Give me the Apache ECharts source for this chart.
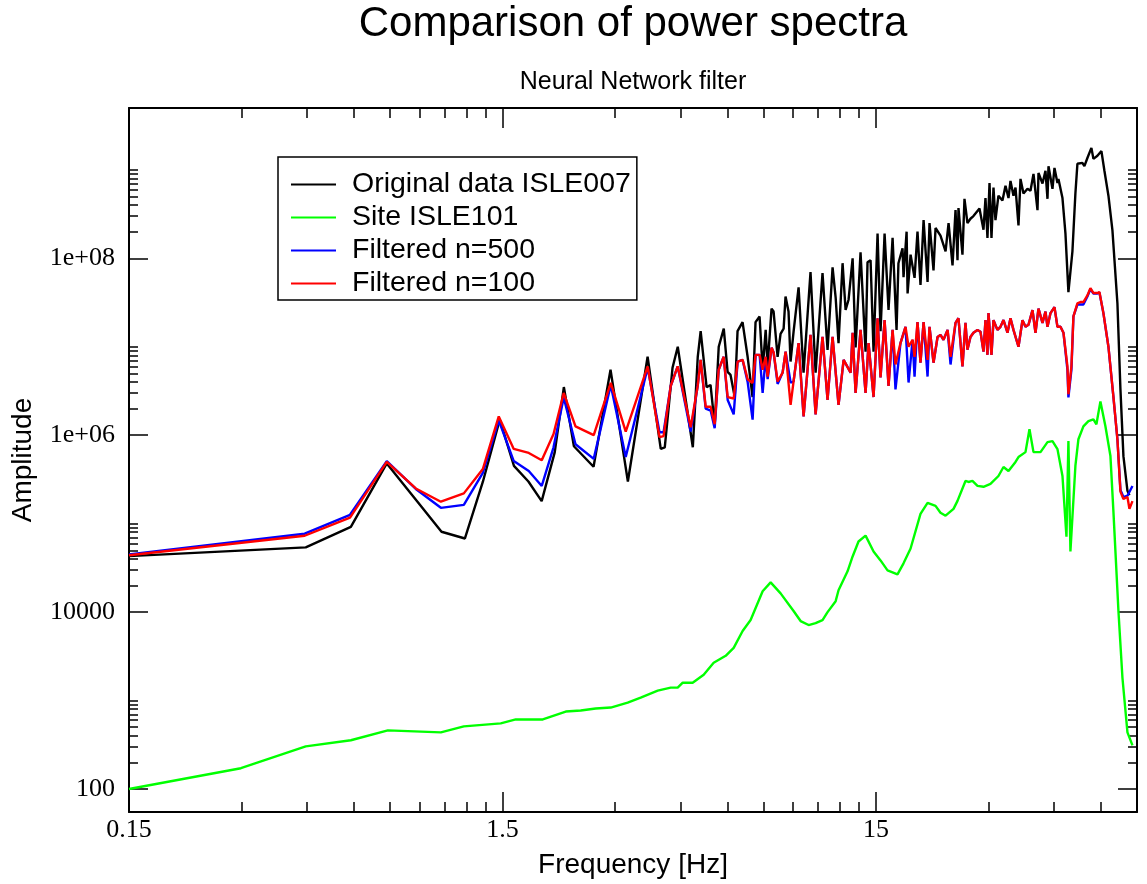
<!DOCTYPE html>
<html>
<head>
<meta charset="utf-8">
<title>Comparison of power spectra</title>
<script src="https://cdn.jsdelivr.net/npm/echarts@6/dist/echarts.min.js"></script>
<style>
html, body { margin: 0; padding: 0; background: #fff; }
#chart { width: 1147px; height: 884px; }
</style>
</head>
<body>
<div id="chart"></div>
<script>
// axis ticks (log axes, grace style: majors every decade on x, every 2 decades on y)
var xMajor = [0.15, 1.5, 15];
var xMajorLabels = ['0.15', '1.5', '15'];
var xMinor = [0.3, 0.45, 0.6, 0.75, 0.9, 1.05, 1.2, 1.35, 3, 4.5, 6, 7.5, 9, 10.5, 12, 13.5, 30, 45, 60, 75];
var yMajor = [100, 1e4, 1e6, 1e8];
var yMajorLabels = ['100', '10000', '1e+06', '1e+08'];
var yMinor = [200, 300, 400, 500, 600, 700, 800, 900, 1000,
  2e4, 3e4, 4e4, 5e4, 6e4, 7e4, 8e4, 9e4, 1e5,
  2e6, 3e6, 4e6, 5e6, 6e6, 7e6, 8e6, 9e6, 1e7,
  2e8, 3e8, 4e8, 5e8, 6e8, 7e8, 8e8, 9e8, 1e9];

// Original data ISLE007
var blackFreq = [0.15,0.446,0.589,0.735,0.885,1.03,1.19,1.33,1.475,1.61,
  1.76,1.91,2.07,2.19,2.33,2.63,2.92,3.25,3.67,3.98,
  4.08,4.28,4.42,4.85,5.00,5.09,5.28,5.41,5.55,5.69,
  5.87,6.01,6.12,6.28,6.39,6.59,6.80,7.01,7.14,7.32,
  7.46,7.60,7.69,7.88,7.98,8.18,8.33,8.49,8.59,8.75,
  8.86,9.03,9.31,9.60,10.02,10.34,10.79,11.13,11.48,11.70,
  11.91,12.21,12.44,12.67,12.99,13.23,13.64,14.07,14.24,14.51,
  14.78,15.15,15.43,15.82,16.21,16.62,17.03,17.23,17.67,17.78,
  18.12,18.23,18.57,18.80,19.03,19.38,19.74,20.12,20.62,20.87,
  21.39,21.66,22.33,23.04,23.47,24.05,24.50,24.80,24.95,25.57,
  25.89,26.37,26.86,27.36,28.40,29.11,29.47,29.83,30.21,30.58,
  30.96,31.34,31.92,32.72,33.34,33.96,34.38,35.02,35.46,36.12,
  36.57,37.25,38.18,38.89,39.62,40.61,40.86,41.88,42.66,43.19,
  43.46,44.54,45.09,45.93,46.21,47.37,48.25,49.14,50.37,51.30,
  51.94,53.56,54.23,55.24,56.62,57.33,58.76,60.23,61.35,62.89,
  64.46,66.47,67.72,68.98,70.71,71.58];
var blackAmp = [4.3e4,5.4e4,9.2e4,4.8e5,1.8e5,8.1e4,6.8e4,3.0e5,1.5e6,4.5e5,
  3.0e5,1.8e5,6.4e5,3.5e6,7.5e5,4.4e5,5.5e6,3.0e5,7.7e6,7.0e5,
  7.3e5,5.8e6,1.0e7,7.3e5,7.7e6,1.5e7,3.5e6,3.7e6,1.3e6,1.0e7,
  1.6e7,5.2e6,4.8e6,2.7e6,1.5e7,1.9e7,7.7e6,2.7e6,1.9e7,2.2e7,
  5.5e6,1.55e7,6.0e6,2.7e7,2.5e7,7.7e6,1.4e7,1.6e7,3.7e7,2.5e7,
  6.8e6,1.5e7,4.7e7,5.1e6,7.0e7,5.1e6,6.8e7,9.2e6,7.9e7,3.6e7,
  1.1e7,8.8e7,2.6e7,3.4e7,1.0e8,9.8e6,1.17e8,8.8e6,9.0e7,9.5e7,
  8.8e6,1.9e8,1.5e7,1.9e8,2.6e7,1.7e8,1.55e7,8.8e7,1.3e8,6.1e7,
  2.0e8,4.0e7,1.1e8,1.14e8,6.0e7,2.0e8,5.0e7,2.7e8,5.4e7,2.5e8,
  7.3e7,2.2e8,1.8e8,1.2e8,2.5e8,8.3e7,3.5e8,9.5e7,3.7e8,1.1e8,
  4.7e8,2.5e8,2.8e8,3.0e8,3.65e8,2.1e8,4.8e8,1.7e8,7.1e8,1.7e8,
  6.3e8,2.7e8,5.1e8,4.5e8,6.6e8,4.8e8,7.5e8,5.1e8,6.3e8,2.35e8,
  7.9e8,5.4e8,6.1e8,5.8e8,9.0e8,3.5e8,9.2e8,7.0e8,9.75e8,4.7e8,
  1.1e9,6.1e8,1.05e9,7.1e8,7.9e8,4.8e8,1.9e8,4.15e7,1.2e8,5.4e8,
  1.17e9,1.2e9,1.1e9,1.36e9,1.77e9,1.33e9,1.44e9,1.63e9,9.75e8,5.1e8,
  2.07e8,3.1e7,3.3e6,5.8e5,2.35e5,2.1e5];

// Site ISLE101
var greenFreq = [0.15,0.299,0.446,0.589,0.74,1.026,1.182,1.484,1.628,1.923,
  2.216,2.43,2.665,2.924,3.246,3.517,3.906,4.232,4.418,4.557,
  4.845,5.186,5.515,5.939,6.24,6.593,6.926,7.459,7.836,8.333,
  9.027,9.426,9.903,10.34,10.79,11.13,11.70,11.91,12.59,12.99,
  13.47,14.07,14.78,15.43,16.11,17.13,17.78,18.57,19.74,20.62,
  21.66,22.33,23.04,24.2,24.8,26.05,26.53,27.19,28.05,29.11,
  30.39,31.92,32.93,33.96,35.46,36.12,37.71,38.65,39.62,41.37,
  43.19,44.54,45.93,47.37,48.55,49.14,49.75,51.3,52.26,53.89,
  55.59,57.33,58.4,59.86,61.73,63.67,64.86,66.89,68.56,70.71,
  72.93];
var greenAmp = [100,172,304,356,460,437,511,552,612,612,
  752,773,813,834,950,1081,1294,1400,1400,1592,
  1592,1959,2673,3206,3945,6124,8128,1.72e4,2.17e4,1.63e4,
  1.03e4,7925,7145,7516,8128,1.0e4,1.33e4,1.77e4,2.89e4,4.26e4,
  6.28e4,7.33e4,4.84e4,3.84e4,2.96e4,2.67e4,3.56e4,5.24e4,1.29e5,1.72e5,
  1.59e5,1.33e5,1.23e5,1.47e5,1.81e5,3.04e5,2.96e5,3.04e5,2.67e5,2.61e5,
  2.81e5,3.46e5,4.37e5,3.94e5,4.98e5,5.66e5,6.44e5,1.17e6,6.44e5,6.44e5,
  8.34e5,8.57e5,6.96e5,3.46e5,7.14e4,8.57e5,4.84e4,4.49e5,9.0e5,1.26e6,
  1.44e6,1.51e6,1.33e6,2.41e6,1.26e6,5.81e5,1.36e5,1.03e4,1811,437,
  312];

// Filtered (n=500 and n=100), same frequency bins
var filtFreq = [0.15,0.443,0.586,0.735,0.879,1.026,1.182,1.329,1.466,1.608,
  1.764,1.911,2.055,2.188,2.353,2.633,2.924,3.207,3.672,3.95,
  4.05,4.232,4.418,4.787,4.997,5.09,5.25,5.414,5.549,5.688,
  5.867,6.013,6.24,6.393,6.593,6.8,7.012,7.143,7.322,7.459,
  7.598,7.693,7.884,7.982,8.181,8.437,8.594,8.862,9.027,9.31,
  9.602,10.02,10.34,10.79,11.13,11.48,11.91,12.29,12.83,12.99,
  13.23,13.64,14.07,14.33,14.78,15.15,15.43,15.82,16.21,16.62,
  16.92,17.45,18.0,18.34,18.8,19.03,19.38,19.74,20.12,20.62,
  20.87,21.39,21.93,22.33,22.75,23.33,23.76,24.5,24.95,25.57,
  26.05,26.37,26.86,27.36,28.05,28.57,29.11,29.47,29.83,30.02,
  30.58,30.96,31.72,32.32,32.93,33.75,34.38,35.02,36.12,37.02,
  37.71,38.41,39.38,40.11,40.86,41.88,42.66,43.19,44.0,45.09,
  45.93,46.79,47.66,48.84,49.14,50.06,50.68,51.94,52.91,53.89,
  55.24,56.28,57.33,58.76,59.49,60.97,62.89,64.86,66.47,67.72,
  68.98,70.71,71.58,72.93];
var blueAmp = [4.5e4,7.7e4,1.26e5,5.1e5,2.47e5,1.51e5,1.63e5,3.74e5,1.47e6,5.1e5,
  3.94e5,2.67e5,7.3e5,2.67e6,7.9e5,5.4e5,3.7e6,5.66e5,5.8e6,1.08e6,
  1.08e6,3.6e6,6.0e6,1.1e6,3.6e6,7.1e6,2.0e6,1.9e6,1.2e6,5.5e6,
  7.7e6,2.5e6,1.72e6,6.8e6,7.1e6,4.0e6,1.5e6,8.1e6,8.1e6,3.0e6,
  7.7e6,4.3e6,9.75e6,8.6e6,3.8e6,5.1e6,8.8e6,3.94e6,4.05e6,1.1e7,
  1.63e6,1.36e7,1.72e6,1.29e7,2.5e6,1.29e7,2.2e6,7.1e6,5.1e6,1.44e7,
  3.0e6,1.55e7,3.0e6,1.1e7,2.7e6,2.1e7,4.5e6,2.0e7,3.6e6,1.55e7,
  3.3e6,1.1e7,1.68e7,3.94e6,1.2e7,4.6e6,1.9e7,6.6e6,1.9e7,4.6e6,
  1.68e7,6.6e6,1.29e7,1.36e7,1.2e7,1.55e7,6.3e6,1.86e7,2.1e7,6.0e6,
  1.86e7,9.25e6,1.29e7,1.44e7,1.55e7,1.48e7,8.8e6,2.0e7,8.1e6,2.4e7,
  8.1e6,2.0e7,1.55e7,1.68e7,2.0e7,1.44e7,2.1e7,1.55e7,1.0e7,2.0e7,
  1.68e7,1.77e7,2.6e7,1.44e7,2.7e7,1.86e7,2.5e7,1.68e7,2.4e7,2.8e7,
  1.68e7,1.68e7,1.44e7,5.5e6,2.67e6,5.5e6,2.2e7,3.0e7,3.0e7,3.0e7,
  3.7e7,4.5e7,4.0e7,4.0e7,4.1e7,2.4e7,1.0e7,2.7e6,9.0e5,2.4e5,
  2.0e5,2.07e5,2.1e5,2.67e5];
var redAmp = [4.4e4,7.3e4,1.17e5,5.0e5,2.5e5,1.77e5,2.2e5,4.15e5,1.63e6,7.0e5,
  6.3e5,5.2e5,1.03e6,3.0e6,1.26e6,1.0e6,3.9e6,1.1e6,6.0e6,9.5e5,
  9.75e5,3.6e6,6.0e6,1.23e6,3.6e6,7.1e6,2.1e6,2.1e6,1.33e6,5.5e6,
  7.7e6,2.7e6,2.6e6,6.8e6,7.1e6,4.3e6,3.9e6,8.1e6,8.1e6,5.5e6,
  7.7e6,4.6e6,9.75e6,8.6e6,4.05e6,5.1e6,8.8e6,2.2e6,4.05e6,1.1e7,
  1.63e6,1.36e7,1.72e6,1.29e7,2.5e6,1.29e7,2.2e6,7.1e6,5.1e6,1.44e7,
  3.0e6,1.55e7,3.0e6,1.1e7,2.7e6,2.1e7,4.5e6,2.0e7,3.6e6,1.55e7,
  6.3e6,1.1e7,1.68e7,1.0e7,1.2e7,7.7e6,1.9e7,6.6e6,1.9e7,7.1e6,
  1.68e7,6.6e6,1.29e7,1.36e7,1.2e7,1.55e7,7.7e6,1.86e7,2.1e7,6.0e6,
  1.86e7,9.25e6,1.29e7,1.44e7,1.55e7,1.48e7,8.8e6,2.0e7,8.1e6,2.4e7,
  8.1e6,2.0e7,1.55e7,1.68e7,2.0e7,1.44e7,2.1e7,1.55e7,1.0e7,2.0e7,
  1.68e7,1.77e7,2.6e7,1.44e7,2.7e7,1.86e7,2.5e7,1.68e7,2.4e7,2.8e7,
  1.68e7,1.68e7,1.44e7,6.0e6,2.9e6,6.0e6,2.2e7,3.1e7,3.2e7,3.2e7,
  3.8e7,4.6e7,4.05e7,4.05e7,4.15e7,2.4e7,1.0e7,2.7e6,9.0e5,2.3e5,
  1.9e5,2.0e5,1.47e5,1.8e5];

var X_MIN = 0.15, X_MAX = 75, Y_MIN = 55, Y_MAX = 5e9;

function pairs(xs, ys) {
  var out = [];
  for (var i = 0; i < xs.length && i < ys.length; i++) {
    out.push([xs[i], ys[i]]);
  }
  return out;
}

function pickLabel(values, labels) {
  return function (v) {
    var best = 0;
    for (var i = 1; i < values.length; i++) {
      if (Math.abs(Math.log(values[i] / v)) < Math.abs(Math.log(values[best] / v))) best = i;
    }
    return labels[best];
  };
}

var serifFont = '"Liberation Serif", "Times New Roman", serif';
var sansFont = '"Liberation Sans", Arial, Helvetica, sans-serif';

// one axis per side for the major ticks, one more for the minor ticks
function xAxisDef(pos, ticks, len, withLine, withLabels) {
  var ax = {
    type: 'log', min: X_MIN, max: X_MAX, position: pos,
    axisLine: { show: withLine, onZero: false, lineStyle: { color: '#000', width: 2 } },
    axisTick: { show: true, inside: true, length: len, customValues: ticks, lineStyle: { color: '#000', width: 1.5 } },
    axisLabel: { show: false },
    splitLine: { show: false },
    minorTick: { show: false }
  };
  if (withLabels) {
    ax.axisLabel = {
      show: true, customValues: xMajor, formatter: pickLabel(xMajor, xMajorLabels),
      color: '#000', fontFamily: serifFont, fontSize: 26, margin: 5
    };
    ax.name = 'Frequency [Hz]';
    ax.nameLocation = 'middle';
    ax.nameGap = 39;
    ax.nameTextStyle = { color: '#000', fontFamily: sansFont, fontSize: 28 };
  }
  return ax;
}

function yAxisDef(pos, ticks, len, withLine, withLabels) {
  var ax = {
    type: 'log', min: Y_MIN, max: Y_MAX, position: pos,
    axisLine: { show: withLine, onZero: false, lineStyle: { color: '#000', width: 2 } },
    axisTick: { show: true, inside: true, length: len, customValues: ticks, lineStyle: { color: '#000', width: 1.5 } },
    axisLabel: { show: false },
    splitLine: { show: false },
    minorTick: { show: false }
  };
  if (withLabels) {
    ax.axisLabel = {
      show: true, customValues: yMajor, formatter: pickLabel(yMajor, yMajorLabels),
      color: '#000', fontFamily: serifFont, fontSize: 26, margin: 14
    };
    ax.name = 'Amplitude';
    ax.nameLocation = 'middle';
    ax.nameGap = 92;
    ax.nameTextStyle = { color: '#000', fontFamily: sansFont, fontSize: 28 };
  }
  return ax;
}

function lineSeries(name, color, data) {
  return {
    name: name, type: 'line', data: data,
    xAxisIndex: 0, yAxisIndex: 0,
    showSymbol: false, symbol: 'none',
    lineStyle: { color: color, width: 2.4 },
    itemStyle: { color: color },
    clip: true
  };
}

var chart = echarts.init(document.getElementById('chart'), null, { renderer: 'canvas' });

var option = {
  animation: false,
  backgroundColor: '#fff',
  textStyle: { fontFamily: sansFont },
  title: [
    { text: 'Comparison of power spectra', left: 633, top: 3, textAlign: 'center', padding: 0,
      textStyle: { color: '#000', fontFamily: sansFont, fontSize: 42, fontWeight: 'normal' } },
    { text: 'Neural Network filter', left: 633, top: 70, textAlign: 'center', padding: 0,
      textStyle: { color: '#000', fontFamily: sansFont, fontSize: 25, fontWeight: 'normal' } }
  ],
  legend: {
    orient: 'vertical', left: 278, top: 157,
    padding: [13, 6, 2, 13],
    itemWidth: 45, itemHeight: 2, itemGap: 4,
    icon: 'rect',
    borderColor: '#000', borderWidth: 1.5, borderRadius: 0,
    backgroundColor: '#fff',
    textStyle: { color: '#000', fontFamily: sansFont, fontSize: 28.5, lineHeight: 24, padding: [0, 0, 0, 11] },
    data: ['Original data ISLE007', 'Site ISLE101', 'Filtered n=500', 'Filtered n=100']
  },
  grid: { left: 129, right: 10, top: 108, bottom: 69, containLabel: false },
  xAxis: [
    xAxisDef('bottom', xMajor, 20, true, true),
    xAxisDef('bottom', xMinor, 10, false, false),
    xAxisDef('top', xMajor, 20, true, false),
    xAxisDef('top', xMinor, 10, false, false)
  ],
  yAxis: [
    yAxisDef('left', yMajor, 19, true, true),
    yAxisDef('left', yMinor, 9, false, false),
    yAxisDef('right', yMajor, 19, true, false),
    yAxisDef('right', yMinor, 9, false, false)
  ],
  series: [
    lineSeries('Original data ISLE007', '#000000', pairs(blackFreq, blackAmp)),
    lineSeries('Site ISLE101', '#00ff00', pairs(greenFreq, greenAmp)),
    lineSeries('Filtered n=500', '#0000ff', pairs(filtFreq, blueAmp)),
    lineSeries('Filtered n=100', '#ff0000', pairs(filtFreq, redAmp))
  ]
};

chart.setOption(option);
</script>
</body>
</html>
